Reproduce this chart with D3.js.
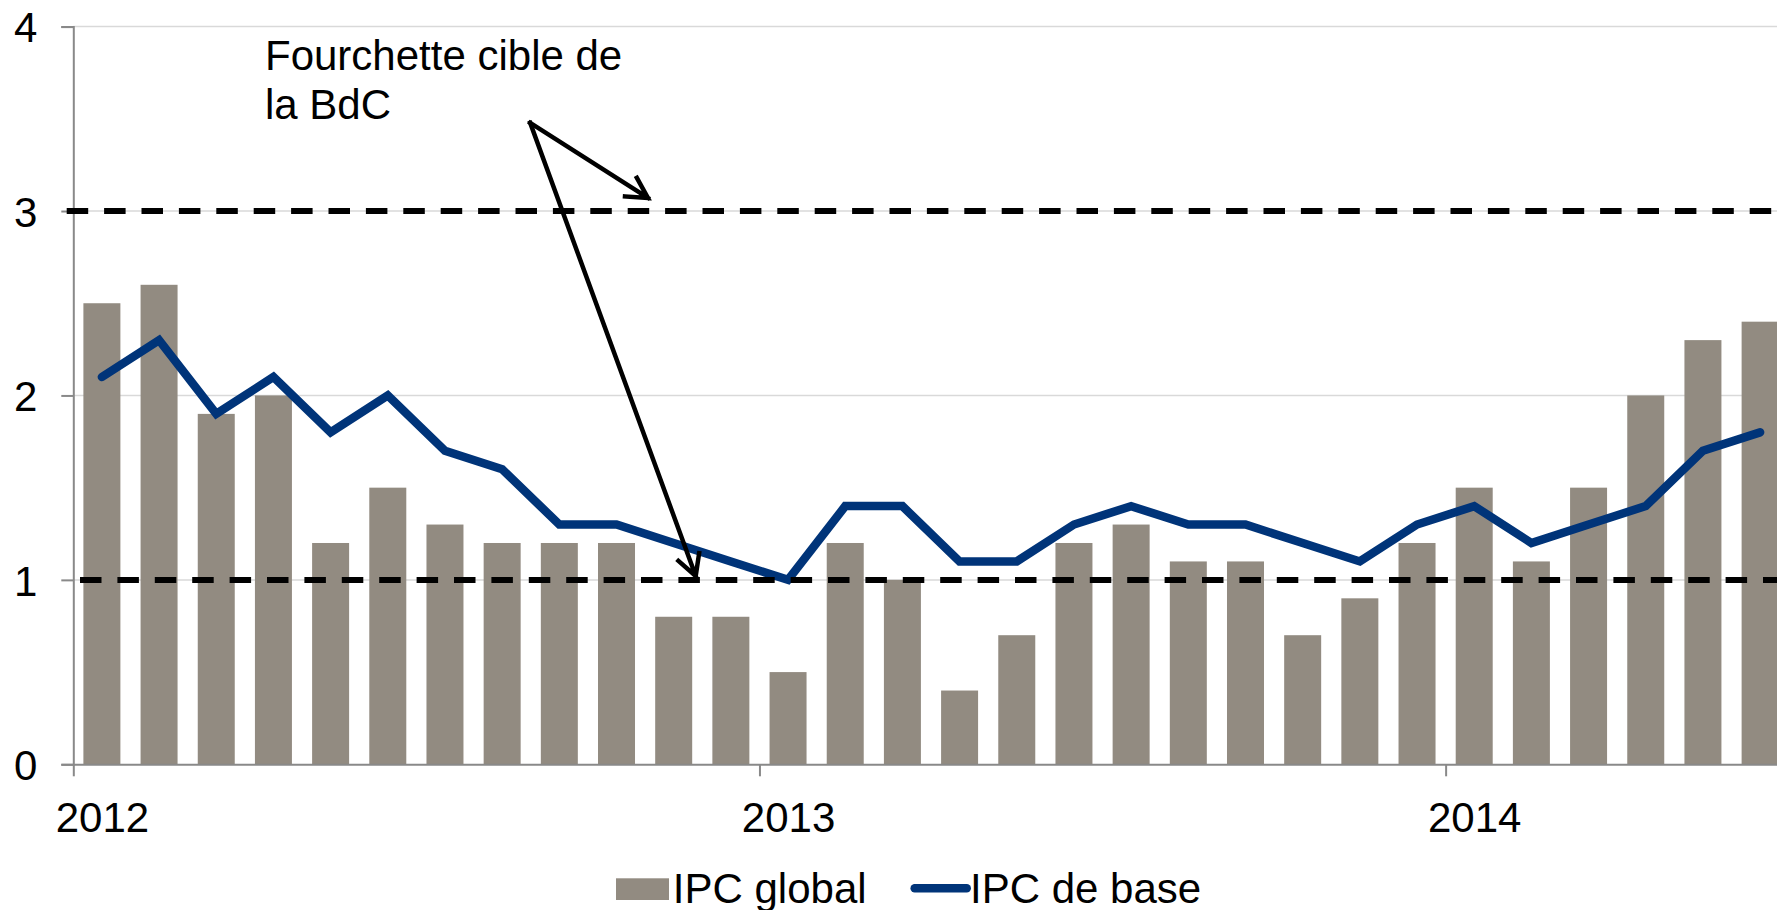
<!DOCTYPE html>
<html>
<head>
<meta charset="utf-8">
<script src="https://cdn.jsdelivr.net/npm/d3@7"></script>
<style>
  body { margin: 0; background: #fff; }
  svg { display: block; font-family: "Liberation Sans", Arial, sans-serif; }
</style>
</head>
<body>
<svg id="chart" width="1777" height="910"></svg>
<script>
// monthly data, Jan 2012 - Jun 2014
const months = [
  '2012-01','2012-02','2012-03','2012-04','2012-05','2012-06','2012-07','2012-08','2012-09','2012-10','2012-11','2012-12',
  '2013-01','2013-02','2013-03','2013-04','2013-05','2013-06','2013-07','2013-08','2013-09','2013-10','2013-11','2013-12',
  '2014-01','2014-02','2014-03','2014-04','2014-05','2014-06'
];
const ipcGlobal = [2.5, 2.6, 1.9, 2.0, 1.2, 1.5, 1.3, 1.2, 1.2, 1.2, 0.8, 0.8,
                   0.5, 1.2, 1.0, 0.4, 0.7, 1.2, 1.3, 1.1, 1.1, 0.7, 0.9, 1.2,
                   1.5, 1.1, 1.5, 2.0, 2.3, 2.4];
const ipcBase = [2.1, 2.3, 1.9, 2.1, 1.8, 2.0, 1.7, 1.6, 1.3, 1.3, 1.2, 1.1,
                 1.0, 1.4, 1.4, 1.1, 1.1, 1.3, 1.4, 1.3, 1.3, 1.2, 1.1, 1.3,
                 1.4, 1.2, 1.3, 1.4, 1.7, 1.8];
const yearTicks = [0, 12, 24];           // month index where each year starts
const yearLabels = ['2012', '2013', '2014'];
const yTicks = [0, 1, 2, 3, 4];
const targetBand = [1, 3];               // BdC target range
const seriesNames = ['IPC global', 'IPC de base'];

const barColor = '#928b81';
const lineColor = '#003479';

const svg = d3.select('#chart');
const left = 73.3, step = 57.18;

// band scale for the bars, linear index scale for ticks / annotations
const x = d3.scaleBand()
  .domain(months)
  .range([left, left + step * months.length])
  .paddingInner(0.353)
  .paddingOuter(0.1765);
const xi = d3.scaleLinear()
  .domain([0, months.length])
  .range([left, left + step * months.length]);
const y = d3.scaleLinear().domain([0, 4]).range([764.3, 26.6]);

// gridlines
svg.append('g')
  .selectAll('line')
  .data(yTicks.filter(d => d > 0))
  .join('line')
  .attr('x1', left).attr('x2', 1777)
  .attr('y1', d => y(d)).attr('y2', d => y(d))
  .attr('stroke', '#d9d9d9')
  .attr('stroke-width', 1.5);

// bars
svg.append('g')
  .selectAll('rect')
  .data(ipcGlobal)
  .join('rect')
  .attr('x', (d, i) => x(months[i]))
  .attr('width', x.bandwidth())
  .attr('y', d => y(d))
  .attr('height', d => y(0) - y(d))
  .attr('fill', barColor);

// y axis
const yAxis = svg.append('g')
  .attr('transform', `translate(${left},0)`)
  .call(d3.axisLeft(y).tickValues(yTicks).tickSize(12).tickPadding(24).tickFormat(d3.format('d')));
yAxis.select('.domain').attr('stroke', '#898989').attr('stroke-width', 2);
yAxis.selectAll('.tick line').attr('stroke', '#898989').attr('stroke-width', 2);
yAxis.selectAll('.tick text')
  .attr('font-size', 42)
  .attr('fill', '#000')
  .attr('dy', '0.36em')
  .style('font-family', '"Liberation Sans", Arial, sans-serif');

// x axis (year ticks at month boundaries, label centred on January)
const xAxis = svg.append('g')
  .attr('transform', `translate(0,${y(0)})`)
  .call(d3.axisBottom(xi).tickValues(yearTicks).tickSize(12).tickPadding(25.6)
    .tickFormat((d, i) => yearLabels[i]));
xAxis.select('.domain').attr('stroke', '#898989').attr('stroke-width', 2)
  .attr('d', `M${left},0.5H1777`);
xAxis.selectAll('.tick line').attr('stroke', '#898989').attr('stroke-width', 2);
xAxis.selectAll('.tick text')
  .attr('font-size', 42)
  .attr('fill', '#000')
  .attr('x', step / 2)
  .style('font-family', '"Liberation Sans", Arial, sans-serif');

// core CPI line
const line = d3.line()
  .x((d, i) => x(months[i]) + x.bandwidth() / 2)
  .y(d => y(d));
svg.append('path')
  .datum(ipcBase)
  .attr('d', line)
  .attr('fill', 'none')
  .attr('stroke', lineColor)
  .attr('stroke-width', 8.5)
  .attr('stroke-linejoin', 'miter')
  .attr('stroke-linecap', 'round');

// dashed target range lines
const dashStart = [80, 66.7];
svg.append('g')
  .selectAll('line')
  .data(targetBand)
  .join('line')
  .attr('x1', (d, i) => dashStart[i]).attr('x2', 1777)
  .attr('y1', d => y(d)).attr('y2', d => y(d))
  .attr('stroke', '#000')
  .attr('stroke-width', 6)
  .attr('stroke-dasharray', '21.5 15.9');

// annotation
const ann = svg.append('g');
ann.append('text')
  .attr('x', 265).attr('y', 70)
  .attr('font-size', 42)
  .text('Fourchette cible de');
ann.append('text')
  .attr('x', 265).attr('y', 119)
  .attr('font-size', 42)
  .text('la BdC');

const arrowFrom = [7.99, 3.478];
const arrowTips = [[10.05, 3.071], [10.885, 1.021]];
arrowTips.forEach(t => {
  const x0 = xi(arrowFrom[0]), y0 = y(arrowFrom[1]);
  const x1 = xi(t[0]), y1 = y(t[1]);
  const a = Math.atan2(y1 - y0, x1 - x0);
  const wl = 23, wa = 0.5;
  const w1 = [x1 - wl * Math.cos(a - wa), y1 - wl * Math.sin(a - wa)];
  const w2 = [x1 - wl * Math.cos(a + wa), y1 - wl * Math.sin(a + wa)];
  ann.append('path')
    .attr('d', `M${x0},${y0}L${x1},${y1}M${w1[0]},${w1[1]}L${x1},${y1}L${w2[0]},${w2[1]}`)
    .attr('fill', 'none')
    .attr('stroke', '#000')
    .attr('stroke-width', 4.5)
    .attr('stroke-linecap', 'square');
});

// legend
const legend = svg.append('g');
legend.append('rect')
  .attr('x', 616).attr('y', 878.3)
  .attr('width', 53).attr('height', 21.7)
  .attr('fill', barColor);
legend.append('text')
  .attr('x', 672.8).attr('y', 903.4)
  .attr('font-size', 42)
  .text(seriesNames[0]);
legend.append('line')
  .attr('x1', 914.7).attr('x2', 966.7)
  .attr('y1', 888.3).attr('y2', 888.3)
  .attr('stroke', lineColor)
  .attr('stroke-width', 8.5)
  .attr('stroke-linecap', 'round');
legend.append('text')
  .attr('x', 970).attr('y', 903.4)
  .attr('font-size', 42)
  .text(seriesNames[1]);
</script>
</body>
</html>
